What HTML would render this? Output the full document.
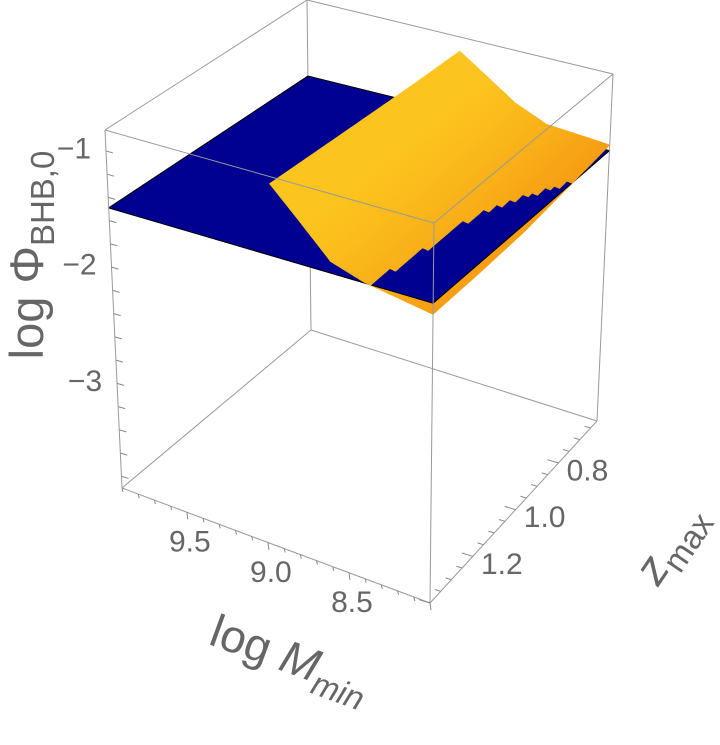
<!DOCTYPE html>
<html><head><meta charset="utf-8">
<style>
html,body{margin:0;padding:0;background:#fff;}
svg text{font-family:"Liberation Sans",sans-serif;fill:#666;}
</style></head>
<body>
<svg id="chart" width="720" height="740" viewBox="0 0 720 740" xmlns="http://www.w3.org/2000/svg">
<g id="box-back"></g>
<g id="surfaces"></g>
<g id="box-front"></g>
<g id="ticks"></g>
<text transform="translate(43,255) rotate(-90)" text-anchor="middle" font-size="47">log Φ<tspan font-size="33" dy="11">BHB,0</tspan></text>
<text transform="translate(285,672) rotate(20)" text-anchor="middle" font-size="46">log <tspan font-style="italic">M</tspan><tspan font-size="33" dy="11" font-style="italic">min</tspan></text>
<text transform="translate(682,552) rotate(-56)" text-anchor="middle" font-size="46"><tspan font-style="italic">z</tspan><tspan font-size="33" dy="11">max</tspan></text>
</svg>
<script>
// axis ranges
const xRange=[9.9,8.0];      // log Mmin (u=0 -> u=1)
const yRange=[1.4,0.62];     // zmax (v=0 -> v=1)
const zRange=[-3.9,-0.82];   // log Phi
const xTicks=[9.5,9.0,8.5];
const yTicks=[0.8,1.0,1.2];
const zTicks=[-1,-2,-3];
const xTickLabels=["9.5","9.0","8.5"];
const yTickLabels=["0.8","1.0","1.2"];
const zTickLabels=["\u22121","\u22122","\u22123"];
// blue surface
const blueX=[9.9,8.0];
const blueY=[1.4,0.62];
const blueZ=[[-1.49,-1.47],[-1.53,-1.50]];
// orange surface
const orX=[8.95,8.6,8.4,8.0];
const orY=[1.4,1.2,1.0,0.8,0.62];
const orZ=[
 [-0.88,-1.38,-1.47,-1.56],
 [-0.90,-1.36,-1.46,-1.56],
 [-0.92,-1.34,-1.46,-1.55],
 [-0.94,-1.31,-1.43,-1.50],
 [-0.95,-1.29,-1.41,-1.45]];

const C={
 '000':[122,488],'100':[430,603],'110':[597,421],'010':[311,330],
 '001':[105,130],'101':[434,223],'111':[613,74],'011':[307,0]};
function proj(u,v,w){
  let x=0,y=0;
  for(const a of [0,1])for(const b of [0,1])for(const c of [0,1]){
    const k=(a?u:1-u)*(b?v:1-v)*(c?w:1-w);
    const p=C[''+a+b+c];x+=k*p[0];y+=k*p[1];}
  return [x,y];
}
const U=x=>(x-xRange[0])/(xRange[1]-xRange[0]);
const V=y=>(y-yRange[0])/(yRange[1]-yRange[0]);
const W=z=>(z-zRange[0])/(zRange[1]-zRange[0]);
const P=(x,y,z)=>proj(U(x),V(y),W(z));
const NS='http://www.w3.org/2000/svg';
function mk(tag,attrs,parent){const e=document.createElementNS(NS,tag);for(const k in attrs)e.setAttribute(k,attrs[k]);parent.appendChild(e);return e;}
function line(a,b,g,name){const e=mk('line',{x1:a[0],y1:a[1],x2:b[0],y2:b[1],stroke:'#999','stroke-width':1},g);

}
const back=document.getElementById('box-back'),front=document.getElementById('box-front');
[['000','010'],['010','110'],['010','011'],['001','011'],['011','111']].forEach(p=>line(C[p[0]],C[p[1]],back,'box-edge'));
[['000','100'],['100','110'],['000','001'],['100','101'],['110','111'],['001','101'],['101','111']].forEach(p=>line(C[p[0]],C[p[1]],front,'box-edge'));

function blueAt(x,y){
  const s=(x-blueX[0])/(blueX[1]-blueX[0]),t=(y-blueY[0])/(blueY[1]-blueY[0]);
  return blueZ[0][0]*(1-s)*(1-t)+blueZ[0][1]*s*(1-t)+blueZ[1][0]*(1-s)*t+blueZ[1][1]*s*t;}
const surf=document.getElementById('surfaces');
function drawPts(pts,color,name){
  const s=pts.map(q=>P(q[0],q[1],q[2]).map(v=>v.toFixed(1)).join(',')).join(' ');
  const e=mk('polygon',{points:s,fill:color,stroke:color,'stroke-width':0.8,'stroke-linejoin':'round'},surf);
  
  }
const S=12;
const below=[],above=[];
for(let j=0;j<orY.length-1;j++)for(let i=0;i<orX.length-1;i++){
  for(let a=0;a<S;a++)for(let b=0;b<S;b++){
    const f=(s,t)=>{const x=orX[i]+(orX[i+1]-orX[i])*s,y=orY[j]+(orY[j+1]-orY[j])*t;
      const z=orZ[j][i]*(1-s)*(1-t)+orZ[j][i+1]*s*(1-t)+orZ[j+1][i]*(1-s)*t+orZ[j+1][i+1]*s*t;return [x,y,z];};
    const pts=[f(a/S,b/S),f((a+1)/S,b/S),f((a+1)/S,(b+1)/S),f(a/S,(b+1)/S)];
    const um=U(pts.reduce((s,q)=>s+q[0],0)/4);
    const r=Math.min(1,Math.max(0,(um-0.6)/0.4));
    const c1=[252,196,30],c2=[246,158,20];
    const col='rgb('+c1.map((c,k)=>Math.round(c+(c2[k]-c)*r)).join(',')+')';
    const h=pts.reduce((s,q)=>s+q[2],0)/4;
    const hb=pts.reduce((s,q)=>s+blueAt(q[0],q[1]),0)/4;
    (h>hb?above:below).push({pts,col});
  }
}
below.forEach(p=>drawPts(p.pts,p.col,'orange-surface-cell'));
const bpts=[[blueX[0],blueY[0]],[blueX[1],blueY[0]],[blueX[1],blueY[1]],[blueX[0],blueY[1]]].map(q=>[q[0],q[1],blueAt(q[0],q[1])]);
drawPts(bpts,'#000091','blue-surface');
const bo=bpts.map(q=>P(q[0],q[1],q[2]).join(',')).join(' ');
const bol=mk('polygon',{points:bo,fill:'none',stroke:'#000','stroke-width':1},surf);


above.forEach(p=>drawPts(p.pts,p.col,'orange-surface-cell'));

const tg=document.getElementById('ticks');
function tk(a,b,name){const e=mk('line',{x1:a[0],y1:a[1],x2:b[0],y2:b[1],stroke:'#888','stroke-width':1},tg);

}
function txt(p,s,name){const e=mk('text',{x:p[0],y:p[1],'text-anchor':'middle','dominant-baseline':'central','font-size':30},tg);e.textContent=s;

}
for(let k=0;k<=19;k++){const x=9.9-0.1*k; if(x<8.0-1e-6)break;
  const major=Math.abs(x*2-Math.round(x*2))<1e-6;
  const a=P(x,yRange[0],zRange[0]),l=major?9:5;tk(a,[a[0]+1,a[1]-l*0.2+l],'x-tick');}
xTicks.forEach((x,i)=>{const a=P(x,yRange[0],zRange[0]);txt([a[0]+3,a[1]+30],xTickLabels[i],'x-tick-label');});
for(let y=1.4;y>=0.62;y-=0.05){const a=P(xRange[1],y,zRange[0]);
  const major=Math.abs(y*5-Math.round(y*5))<1e-4;const l=major?11:6;tk(a,[a[0]-l,a[1]-l*0.3],'y-tick');}
yTicks.forEach((y,i)=>{const a=P(xRange[1],y,zRange[0]);txt([a[0]+29,a[1]+8],yTickLabels[i],'y-tick-label');});
for(let z=-3.8;z<=-0.82;z+=0.2){const a=P(xRange[0],yRange[0],z);tk(a,[a[0]+7,a[1]+2],'z-tick');}
zTicks.forEach((z,i)=>{const a=P(xRange[0],yRange[0],z);txt([a[0]-32,a[1]-2],zTickLabels[i],'z-tick-label');});
</script>
</body></html>
